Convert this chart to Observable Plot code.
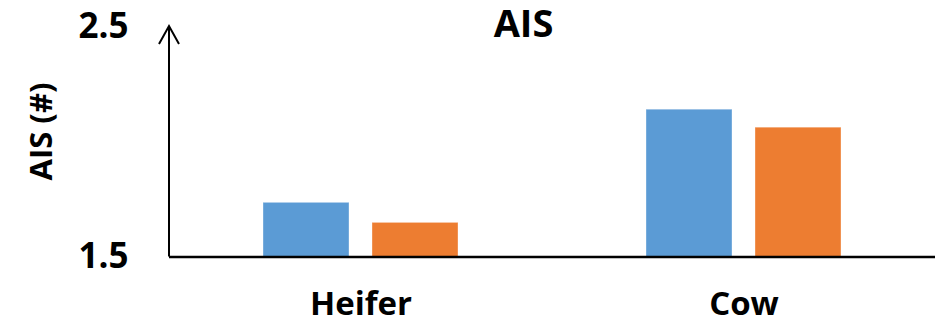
<!DOCTYPE html>
<html>
<head>
<meta charset="utf-8">
<script src="https://cdn.jsdelivr.net/npm/d3@7"></script>
<script src="https://cdn.jsdelivr.net/npm/@observablehq/plot@0.6"></script>
<style>
  html, body { margin: 0; padding: 0; background: #fff; }
  #chart { position: relative; width: 935px; height: 331px; }
  #chart svg { display: block; }
</style>
</head>
<body>
<div id="chart"></div>
<script>
// Animal groups on the x axis and the two series drawn side by side
const categories = ["Heifer", "Cow"];
const seriesNames = ["Series 1", "Series 2"];
const series1 = [1.735, 2.139];
const series2 = [1.648, 2.061];
const yTicks = [1.5, 2.5];
const titleText = "AIS";
const yLabelText = "AIS (#)";
const seriesColors = ["#5B9BD5", "#ED7D31"];

const rows = categories.flatMap((c, i) => [
  {category: c, series: seriesNames[0], value: series1[i]},
  {category: c, series: seriesNames[1], value: series2[i]}
]);

const font = "'Open Sans', 'DejaVu Sans', sans-serif";

const plot = Plot.plot({
  width: 935,
  height: 331,
  marginLeft: 169,
  marginRight: 0,
  marginTop: 26,
  marginBottom: 74.5,
  style: {fontFamily: font, fontWeight: 700, color: "#000", background: "#fff", overflow: "visible"},
  fx: {domain: categories, padding: 0, label: null},
  x: {domain: seriesNames, paddingInner: 0.2146, paddingOuter: 0.858, axis: null},
  y: {domain: [yTicks[0], yTicks[yTicks.length - 1]], label: null},
  color: {domain: seriesNames, range: seriesColors},
  marks: [
    Plot.barY(rows, {
      fx: "category",
      x: "series",
      y1: yTicks[0],
      y2: "value",
      fill: "series",
      stroke: "#fff",
      strokeOpacity: 0.35,
      strokeWidth: 1
    }),
    Plot.ruleY([yTicks[0]], {stroke: "#000", strokeWidth: 2.5}),
    Plot.axisY({
      ticks: yTicks,
      tickSize: 0,
      tickPadding: 41,
      fontSize: 35,
      tickFormat: d3.format(".1f"),
      label: null
    }),
    Plot.axisFx({
      anchor: "bottom",
      tickSize: 0,
      tickPadding: 35,
      fontSize: 33,
      label: null
    })
  ]
});

document.getElementById("chart").appendChild(plot);

// Vertical axis line ending in an open arrowhead, placed from the plot's scales
const svg = d3.select(plot);
const y = plot.scale("y");
const fx = plot.scale("fx");
const x0 = fx.apply(categories[0]);
const yTop = y.apply(yTicks[yTicks.length - 1]);
const yBase = y.apply(yTicks[0]);
svg.append("path")
  .attr("d", `M${x0},${yBase}V${yTop}M${x0 - 10},${yTop + 18}L${x0},${yTop}L${x0 + 10},${yTop + 18}`)
  .attr("fill", "none")
  .attr("stroke", "#000")
  .attr("stroke-width", 2);

// Chart title and rotated y-axis label
svg.append("text")
  .attr("x", 523.5)
  .attr("y", 37)
  .attr("text-anchor", "middle")
  .attr("font-family", font)
  .attr("font-weight", 700)
  .attr("font-size", 38)
  .text(titleText);

svg.append("text")
  .attr("transform", "translate(51.5,131.5) rotate(-90)")
  .attr("text-anchor", "middle")
  .attr("font-family", font)
  .attr("font-weight", 700)
  .attr("font-size", 31)
  .text(yLabelText);
</script>
</body>
</html>
